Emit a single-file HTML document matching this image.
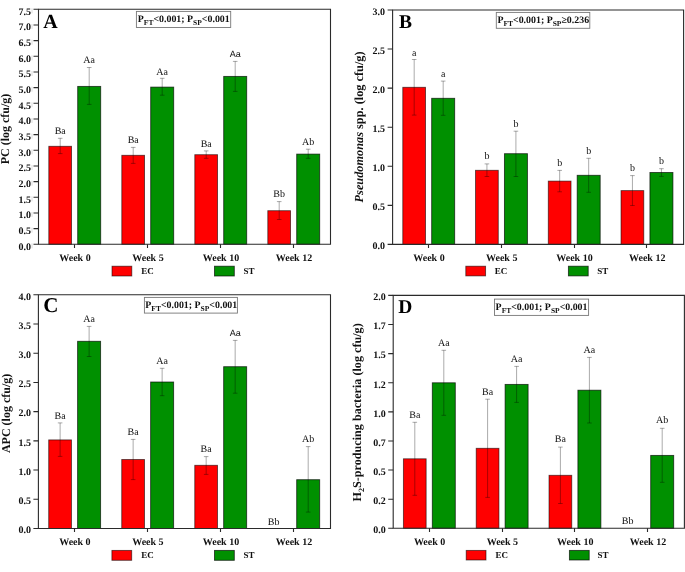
<!DOCTYPE html>
<html><head><meta charset="utf-8"><title>Figure</title>
<style>
html,body{margin:0;padding:0;background:#fff;}
body{width:685px;height:572px;overflow:hidden;font-family:"Liberation Serif",serif;}
svg{display:block;will-change:transform;text-rendering:geometricPrecision;}
</style></head>
<body>
<svg width="685" height="572" viewBox="0 0 685 572">
<rect width="685" height="572" fill="#fff"/>
<g>
<rect x="48.8" y="146.3" width="22.75" height="98" fill="#ff0000" stroke="#000" stroke-opacity="0.6" stroke-width="0.9"/>
<rect x="77.7" y="86.4" width="23" height="157.9" fill="#009000" stroke="#000" stroke-opacity="0.7" stroke-width="0.9"/>
<rect x="121.8" y="155.3" width="22.75" height="89" fill="#ff0000" stroke="#000" stroke-opacity="0.6" stroke-width="0.9"/>
<rect x="150.7" y="87.1" width="23" height="157.2" fill="#009000" stroke="#000" stroke-opacity="0.7" stroke-width="0.9"/>
<rect x="194.8" y="154.7" width="22.75" height="89.6" fill="#ff0000" stroke="#000" stroke-opacity="0.6" stroke-width="0.9"/>
<rect x="223.7" y="76.4" width="23" height="167.9" fill="#009000" stroke="#000" stroke-opacity="0.7" stroke-width="0.9"/>
<rect x="267.8" y="210.7" width="22.75" height="33.6" fill="#ff0000" stroke="#000" stroke-opacity="0.6" stroke-width="0.9"/>
<rect x="296.7" y="154.1" width="23" height="90.2" fill="#009000" stroke="#000" stroke-opacity="0.7" stroke-width="0.9"/>
</g>
<g stroke="#000" stroke-width="0.7" stroke-opacity="0.48" fill="none">
<path d="M60.2 138.3V153.6M57.9 138.3H62.5M57.9 153.6H62.5"/>
<path d="M89.2 67.5V104.4M86.9 67.5H91.5M86.9 104.4H91.5"/>
<path d="M133.2 147.4V163.4M130.9 147.4H135.5M130.9 163.4H135.5"/>
<path d="M162.2 78.3V95.2M159.9 78.3H164.5M159.9 95.2H164.5"/>
<path d="M206.2 150.9V158.3M203.9 150.9H208.5M203.9 158.3H208.5"/>
<path d="M235.2 61.4V91.4M232.9 61.4H237.5M232.9 91.4H237.5"/>
<path d="M279.2 201.6V219.5M276.9 201.6H281.5M276.9 219.5H281.5"/>
<path d="M308.2 149.2V158.3M305.9 149.2H310.5M305.9 158.3H310.5"/>
</g>
<g font-family='"Liberation Serif", serif' font-size="10" fill="#111" text-anchor="middle">
<text x="60.2" y="134">Ba</text>
<text x="89.2" y="62.8">Aa</text>
<text x="133.2" y="142.8">Ba</text>
<text x="162.2" y="74.5">Aa</text>
<text x="206.2" y="146.6">Ba</text>
<text x="235.2" y="56.9" font-size="9" font-family='"Liberation Sans", sans-serif'>Aa</text>
<text x="279.2" y="196.9">Bb</text>
<text x="308.2" y="144.5">Ab</text>
</g>
<path d="M38.5 9.3H330.5V244.3H38.5Z" fill="none" stroke="#2a2a2a" stroke-width="1.1"/>
<path d="M33.5 244.3H38.5M33.5 228.63H38.5M33.5 212.97H38.5M33.5 197.3H38.5M33.5 181.63H38.5M33.5 165.97H38.5M33.5 150.3H38.5M33.5 134.63H38.5M33.5 118.97H38.5M33.5 103.3H38.5M33.5 87.63H38.5M33.5 71.97H38.5M33.5 56.3H38.5M33.5 40.63H38.5M33.5 24.97H38.5M33.5 9.3H38.5M74.5 244.3V247.9M147.5 244.3V247.9M220.5 244.3V247.9M293.5 244.3V247.9" stroke="#2a2a2a" stroke-width="1.1" fill="none"/>
<g font-family='"Liberation Serif", serif' font-weight="bold" font-size="10" fill="#111" text-anchor="end">
<text x="31" y="249.5">0.0</text>
<text x="31" y="233.83">0.5</text>
<text x="31" y="218.17">1.0</text>
<text x="31" y="202.5">1.5</text>
<text x="31" y="186.83">2.0</text>
<text x="31" y="171.17">2.5</text>
<text x="31" y="155.5">3.0</text>
<text x="31" y="139.83">3.5</text>
<text x="31" y="124.17">4.0</text>
<text x="31" y="108.5">4.5</text>
<text x="31" y="92.83">5.0</text>
<text x="31" y="77.17">5.5</text>
<text x="31" y="61.5">6.0</text>
<text x="31" y="45.83">6.5</text>
<text x="31" y="30.17">7.0</text>
<text x="31" y="14.5">7.5</text>
</g>
<path d="M32 243.3V248.3M32 227.63V232.63M32 211.97V216.97M32 196.3V201.3M32 180.63V185.63M32 164.97V169.97M32 149.3V154.3M32 133.63V138.63M32 117.97V122.97M32 102.3V107.3M32 86.63V91.63M32 70.97V75.97M32 55.3V60.3M32 39.63V44.63M32 23.97V28.97M32 8.3V13.3" stroke="#000" stroke-opacity="0.18" stroke-width="0.8" fill="none"/>
<g font-family='"Liberation Serif", serif' font-weight="bold" font-size="10" fill="#111" text-anchor="middle">
<text x="75" y="260.7">Week 0</text>
<text x="148" y="260.7">Week 5</text>
<text x="221" y="260.7">Week 10</text>
<text x="294" y="260.7">Week 12</text>
</g>
<rect x="112" y="266.2" width="19.8" height="9.8" fill="#ff0000" stroke="#000" stroke-opacity="0.6" stroke-width="0.9"/>
<rect x="214.5" y="266.2" width="19.8" height="9.8" fill="#009000" stroke="#000" stroke-opacity="0.7" stroke-width="0.9"/>
<g font-family='"Liberation Serif", serif' font-weight="bold" font-size="9" fill="#111">
<text x="141.3" y="274.2">EC</text>
<text x="243.5" y="274.2">ST</text>
</g>
<text x="43.2" y="27.8" font-family='"Liberation Serif", serif' font-weight="bold" font-size="20" fill="#000">A</text>
<rect x="136.4" y="11.4" width="94.3" height="16.1" fill="#fff" stroke="#777" stroke-width="0.9"/>
<text x="137.8" y="22.4" font-family='"Liberation Serif", serif' font-weight="bold" font-size="9.9" fill="#111">P<tspan font-size="7.5" dy="2.6">FT</tspan><tspan dy="-2.6">&lt;0.001; P</tspan><tspan font-size="7.5" dy="2.6">SP</tspan><tspan dy="-2.6">&lt;0.001</tspan></text>
<text transform="translate(9.4 129) rotate(-90)" text-anchor="middle" font-family='"Liberation Serif", serif' font-weight="bold" font-size="12" fill="#111"><tspan>PC (log cfu/g)</tspan></text>
<g>
<rect x="402.78" y="87.3" width="22.75" height="157.1" fill="#ff0000" stroke="#000" stroke-opacity="0.6" stroke-width="0.9"/>
<rect x="431.68" y="98.3" width="23" height="146.1" fill="#009000" stroke="#000" stroke-opacity="0.7" stroke-width="0.9"/>
<rect x="475.53" y="170.3" width="22.75" height="74.1" fill="#ff0000" stroke="#000" stroke-opacity="0.6" stroke-width="0.9"/>
<rect x="504.43" y="153.7" width="23" height="90.7" fill="#009000" stroke="#000" stroke-opacity="0.7" stroke-width="0.9"/>
<rect x="548.28" y="181.1" width="22.75" height="63.3" fill="#ff0000" stroke="#000" stroke-opacity="0.6" stroke-width="0.9"/>
<rect x="577.18" y="175.3" width="23" height="69.1" fill="#009000" stroke="#000" stroke-opacity="0.7" stroke-width="0.9"/>
<rect x="621.03" y="190.6" width="22.75" height="53.8" fill="#ff0000" stroke="#000" stroke-opacity="0.6" stroke-width="0.9"/>
<rect x="649.93" y="172.5" width="23" height="71.9" fill="#009000" stroke="#000" stroke-opacity="0.7" stroke-width="0.9"/>
</g>
<g stroke="#000" stroke-width="0.7" stroke-opacity="0.48" fill="none">
<path d="M414.18 59.5V115.1M411.88 59.5H416.48M411.88 115.1H416.48"/>
<path d="M443.18 81.1V115.3M440.88 81.1H445.48M440.88 115.3H445.48"/>
<path d="M486.93 163.9V176.5M484.62 163.9H489.23M484.62 176.5H489.23"/>
<path d="M515.92 131.2V176.5M513.62 131.2H518.22M513.62 176.5H518.22"/>
<path d="M559.68 170.4V191.8M557.38 170.4H561.98M557.38 191.8H561.98"/>
<path d="M588.68 158.3V192.3M586.38 158.3H590.98M586.38 192.3H590.98"/>
<path d="M632.43 175.6V205.5M630.13 175.6H634.73M630.13 205.5H634.73"/>
<path d="M661.43 168.7V176.4M659.13 168.7H663.73M659.13 176.4H663.73"/>
</g>
<g font-family='"Liberation Serif", serif' font-size="10" fill="#111" text-anchor="middle">
<text x="414.18" y="55.7">a</text>
<text x="443.18" y="77">a</text>
<text x="486.93" y="158.6">b</text>
<text x="515.92" y="126.6">b</text>
<text x="559.68" y="165.5">b</text>
<text x="588.68" y="154">b</text>
<text x="632.43" y="170.7">b</text>
<text x="661.43" y="163.5">b</text>
</g>
<path d="M392.6 10H683.6V244.4H392.6Z" fill="none" stroke="#2a2a2a" stroke-width="1.1"/>
<path d="M387.6 244.4H392.6M387.6 205.33H392.6M387.6 166.27H392.6M387.6 127.2H392.6M387.6 88.13H392.6M387.6 49.07H392.6M387.6 10H392.6M428.5 244.4V248M501.5 244.4V248M574.5 244.4V248M646.5 244.4V248" stroke="#2a2a2a" stroke-width="1.1" fill="none"/>
<g font-family='"Liberation Serif", serif' font-weight="bold" font-size="10" fill="#111" text-anchor="end">
<text x="385.1" y="249.2">0.0</text>
<text x="385.1" y="210.13">0.5</text>
<text x="385.1" y="171.07">1.0</text>
<text x="385.1" y="132">1.5</text>
<text x="385.1" y="92.93">2.0</text>
<text x="385.1" y="53.87">2.5</text>
<text x="385.1" y="14.8">3.0</text>
</g>
<g font-family='"Liberation Serif", serif' font-weight="bold" font-size="10" fill="#111" text-anchor="middle">
<text x="428.98" y="260.7">Week 0</text>
<text x="501.73" y="260.7">Week 5</text>
<text x="574.48" y="260.7">Week 10</text>
<text x="647.23" y="260.7">Week 12</text>
</g>
<rect x="465.8" y="266.2" width="19.8" height="9.7" fill="#ff0000" stroke="#000" stroke-opacity="0.6" stroke-width="0.9"/>
<rect x="568.4" y="266.2" width="19.8" height="9.7" fill="#009000" stroke="#000" stroke-opacity="0.7" stroke-width="0.9"/>
<g font-family='"Liberation Serif", serif' font-weight="bold" font-size="9" fill="#111">
<text x="494.8" y="274.2">EC</text>
<text x="597.2" y="274.2">ST</text>
</g>
<text x="398.9" y="27.9" font-family='"Liberation Serif", serif' font-weight="bold" font-size="19.5" fill="#000">B</text>
<rect x="496.3" y="12.4" width="93.5" height="15.9" fill="#fff" stroke="#777" stroke-width="0.9"/>
<text x="497.4" y="23.3" font-family='"Liberation Serif", serif' font-weight="bold" font-size="9.9" fill="#111">P<tspan font-size="7.5" dy="2.6">FT</tspan><tspan dy="-2.6">&lt;0.001; P</tspan><tspan font-size="7.5" dy="2.6">SP</tspan><tspan dy="-2.6">≥0.236</tspan></text>
<text transform="translate(363.2 126.9) rotate(-90)" text-anchor="middle" font-family='"Liberation Serif", serif' font-weight="bold" font-size="12.3" fill="#111"><tspan font-style="italic">Pseudomonas</tspan><tspan> spp. (log cfu/g)</tspan></text>
<g>
<rect x="48.71" y="439.9" width="22.75" height="88.6" fill="#ff0000" stroke="#000" stroke-opacity="0.6" stroke-width="0.9"/>
<rect x="77.61" y="341.3" width="23" height="187.2" fill="#009000" stroke="#000" stroke-opacity="0.7" stroke-width="0.9"/>
<rect x="121.74" y="459.5" width="22.75" height="69" fill="#ff0000" stroke="#000" stroke-opacity="0.6" stroke-width="0.9"/>
<rect x="150.64" y="382" width="23" height="146.5" fill="#009000" stroke="#000" stroke-opacity="0.7" stroke-width="0.9"/>
<rect x="194.76" y="465.3" width="22.75" height="63.2" fill="#ff0000" stroke="#000" stroke-opacity="0.6" stroke-width="0.9"/>
<rect x="223.66" y="366.7" width="23" height="161.8" fill="#009000" stroke="#000" stroke-opacity="0.7" stroke-width="0.9"/>
<rect x="296.69" y="479.7" width="23" height="48.8" fill="#009000" stroke="#000" stroke-opacity="0.7" stroke-width="0.9"/>
</g>
<g stroke="#000" stroke-width="0.7" stroke-opacity="0.48" fill="none">
<path d="M60.11 422.9V456.4M57.81 422.9H62.41M57.81 456.4H62.41"/>
<path d="M89.11 326.4V356.5M86.81 326.4H91.41M86.81 356.5H91.41"/>
<path d="M133.14 439.4V479.6M130.84 439.4H135.44M130.84 479.6H135.44"/>
<path d="M162.14 368.3V395.7M159.84 368.3H164.44M159.84 395.7H164.44"/>
<path d="M206.16 456.6V474.4M203.86 456.6H208.46M203.86 474.4H208.46"/>
<path d="M235.16 340.4V393.2M232.86 340.4H237.46M232.86 393.2H237.46"/>
<path d="M308.19 446.6V512.1M305.89 446.6H310.49M305.89 512.1H310.49"/>
</g>
<g font-family='"Liberation Serif", serif' font-size="10" fill="#111" text-anchor="middle">
<text x="60.11" y="418.9">Ba</text>
<text x="89.11" y="321.7">Aa</text>
<text x="133.14" y="434.8">Ba</text>
<text x="162.14" y="363.9">Aa</text>
<text x="206.16" y="452.2">Ba</text>
<text x="235.16" y="335.9" font-size="9" font-family='"Liberation Sans", sans-serif'>Aa</text>
<text x="273.69" y="524.7">Bb</text>
<text x="308.19" y="441.8">Ab</text>
</g>
<path d="M38.4 294.8H330.5V528.5H38.4Z" fill="none" stroke="#2a2a2a" stroke-width="1.1"/>
<path d="M33.4 528.5H38.4M33.4 499.29H38.4M33.4 470.07H38.4M33.4 440.86H38.4M33.4 411.65H38.4M33.4 382.44H38.4M33.4 353.23H38.4M33.4 324.01H38.4M33.4 294.8H38.4M74.5 528.5V532.1M147.5 528.5V532.1M220.5 528.5V532.1M293.5 528.5V532.1" stroke="#2a2a2a" stroke-width="1.1" fill="none"/>
<g font-family='"Liberation Serif", serif' font-weight="bold" font-size="10" fill="#111" text-anchor="end">
<text x="30.9" y="533.3">0.0</text>
<text x="30.9" y="504.09">0.5</text>
<text x="30.9" y="474.88">1.0</text>
<text x="30.9" y="445.66">1.5</text>
<text x="30.9" y="416.45">2.0</text>
<text x="30.9" y="387.24">2.5</text>
<text x="30.9" y="358.03">3.0</text>
<text x="30.9" y="328.81">3.5</text>
<text x="30.9" y="299.6">4.0</text>
</g>
<g font-family='"Liberation Serif", serif' font-weight="bold" font-size="10" fill="#111" text-anchor="middle">
<text x="74.91" y="544.6">Week 0</text>
<text x="147.94" y="544.6">Week 5</text>
<text x="220.96" y="544.6">Week 10</text>
<text x="293.99" y="544.6">Week 12</text>
</g>
<rect x="111.9" y="550.4" width="19.8" height="9.9" fill="#ff0000" stroke="#000" stroke-opacity="0.6" stroke-width="0.9"/>
<rect x="214.5" y="550.4" width="19.8" height="9.9" fill="#009000" stroke="#000" stroke-opacity="0.7" stroke-width="0.9"/>
<g font-family='"Liberation Serif", serif' font-weight="bold" font-size="9" fill="#111">
<text x="141.3" y="558.1">EC</text>
<text x="243.5" y="558.1">ST</text>
</g>
<text x="43.2" y="312" font-family='"Liberation Serif", serif' font-weight="bold" font-size="21" fill="#000">C</text>
<rect x="144.4" y="297.4" width="93" height="15.7" fill="#fff" stroke="#777" stroke-width="0.9"/>
<text x="145.3" y="308.2" font-family='"Liberation Serif", serif' font-weight="bold" font-size="9.9" fill="#111">P<tspan font-size="7.5" dy="2.6">FT</tspan><tspan dy="-2.6">&lt;0.001; P</tspan><tspan font-size="7.5" dy="2.6">SP</tspan><tspan dy="-2.6">&lt;0.001</tspan></text>
<text transform="translate(9.5 413.4) rotate(-90)" text-anchor="middle" font-family='"Liberation Serif", serif' font-weight="bold" font-size="12" fill="#111"><tspan>APC (log cfu/g)</tspan></text>
<g>
<rect x="403.4" y="458.8" width="22.75" height="69.5" fill="#ff0000" stroke="#000" stroke-opacity="0.6" stroke-width="0.9"/>
<rect x="432.3" y="382.8" width="23" height="145.5" fill="#009000" stroke="#000" stroke-opacity="0.7" stroke-width="0.9"/>
<rect x="476.2" y="448.3" width="22.75" height="80" fill="#ff0000" stroke="#000" stroke-opacity="0.6" stroke-width="0.9"/>
<rect x="505.1" y="384.4" width="23" height="143.9" fill="#009000" stroke="#000" stroke-opacity="0.7" stroke-width="0.9"/>
<rect x="549" y="475.3" width="22.75" height="53" fill="#ff0000" stroke="#000" stroke-opacity="0.6" stroke-width="0.9"/>
<rect x="577.9" y="390.2" width="23" height="138.1" fill="#009000" stroke="#000" stroke-opacity="0.7" stroke-width="0.9"/>
<rect x="650.7" y="455.4" width="23" height="72.9" fill="#009000" stroke="#000" stroke-opacity="0.7" stroke-width="0.9"/>
</g>
<g stroke="#000" stroke-width="0.7" stroke-opacity="0.48" fill="none">
<path d="M414.8 422.3V495.3M412.5 422.3H417.1M412.5 495.3H417.1"/>
<path d="M443.8 350.3V415.3M441.5 350.3H446.1M441.5 415.3H446.1"/>
<path d="M487.6 399.2V497.4M485.3 399.2H489.9M485.3 497.4H489.9"/>
<path d="M516.6 366.4V402.4M514.3 366.4H518.9M514.3 402.4H518.9"/>
<path d="M560.4 447.1V503.5M558.1 447.1H562.7M558.1 503.5H562.7"/>
<path d="M589.4 357.4V423M587.1 357.4H591.7M587.1 423H591.7"/>
<path d="M662.2 428.3V482.3M659.9 428.3H664.5M659.9 482.3H664.5"/>
</g>
<g font-family='"Liberation Serif", serif' font-size="10" fill="#111" text-anchor="middle">
<text x="414.8" y="417.9">Ba</text>
<text x="443.8" y="346">Aa</text>
<text x="487.6" y="394.5">Ba</text>
<text x="516.6" y="361.8">Aa</text>
<text x="560.4" y="442">Ba</text>
<text x="589.4" y="352.5">Aa</text>
<text x="627.7" y="523.9">Bb</text>
<text x="662.2" y="423.4">Ab</text>
</g>
<path d="M393.2 295.4H684.4V528.3H393.2Z" fill="none" stroke="#2a2a2a" stroke-width="1.1"/>
<path d="M388.2 528.3H393.2M388.2 499.19H393.2M388.2 470.07H393.2M388.2 440.96H393.2M388.2 411.85H393.2M388.2 382.74H393.2M388.2 353.62H393.2M388.2 324.51H393.2M388.2 295.4H393.2M429.5 528.3V531.9M502.5 528.3V531.9M574.5 528.3V531.9M647.5 528.3V531.9" stroke="#2a2a2a" stroke-width="1.1" fill="none"/>
<g font-family='"Liberation Serif", serif' font-weight="bold" font-size="10" fill="#111" text-anchor="end">
<text x="385.7" y="533.1">0.0</text>
<text x="385.7" y="503.99">0.2</text>
<text x="385.7" y="474.87">0.5</text>
<text x="385.7" y="445.76">0.7</text>
<text x="385.7" y="416.65">1.0</text>
<text x="385.7" y="387.54">1.2</text>
<text x="385.7" y="358.43">1.5</text>
<text x="385.7" y="329.31">1.7</text>
<text x="385.7" y="300.2">2.0</text>
</g>
<g font-family='"Liberation Serif", serif' font-weight="bold" font-size="10" fill="#111" text-anchor="middle">
<text x="429.6" y="544.6">Week 0</text>
<text x="502.4" y="544.6">Week 5</text>
<text x="575.2" y="544.6">Week 10</text>
<text x="648" y="544.6">Week 12</text>
</g>
<rect x="466.2" y="550.4" width="19.8" height="9.6" fill="#ff0000" stroke="#000" stroke-opacity="0.6" stroke-width="0.9"/>
<rect x="569.4" y="550.4" width="19.8" height="9.6" fill="#009000" stroke="#000" stroke-opacity="0.7" stroke-width="0.9"/>
<g font-family='"Liberation Serif", serif' font-weight="bold" font-size="9" fill="#111">
<text x="495.5" y="558.1">EC</text>
<text x="597.6" y="558.1">ST</text>
</g>
<text x="398.3" y="313" font-family='"Liberation Serif", serif' font-weight="bold" font-size="19.5" fill="#000">D</text>
<rect x="494.5" y="299.1" width="94.1" height="16.3" fill="#fff" stroke="#777" stroke-width="0.9"/>
<text x="495.6" y="310" font-family='"Liberation Serif", serif' font-weight="bold" font-size="9.9" fill="#111">P<tspan font-size="7.5" dy="2.6">FT</tspan><tspan dy="-2.6">&lt;0.001; P</tspan><tspan font-size="7.5" dy="2.6">SP</tspan><tspan dy="-2.6">&lt;0.001</tspan></text>
<text transform="translate(361.3 412.4) rotate(-90)" text-anchor="middle" font-family='"Liberation Serif", serif' font-weight="bold" font-size="12.15" fill="#111"><tspan>H</tspan><tspan font-size="8" dy="2.5">2</tspan><tspan dy="-2.5">S-producing bacteria (log cfu/g)</tspan></text>
</svg>
</body></html>
